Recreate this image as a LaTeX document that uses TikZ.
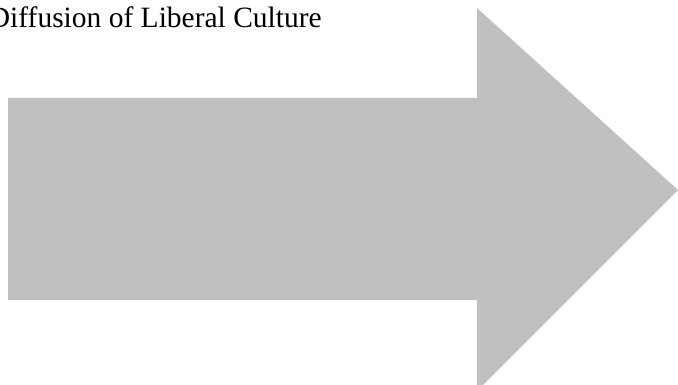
\documentclass[tikz,border=0pt]{standalone}
\usepackage{fontspec}
\setmainfont{Liberation Serif}
\definecolor{arrowgray}{RGB}{191,192,194}
\tikzset{
  arrowshape/.style={fill=arrowgray, draw=none},
  titletext/.style={inner sep=0pt, font=\fontsize{29.5}{33}\selectfont, text=black}
}
\begin{document}
\begin{tikzpicture}[x=1pt,y=-1pt]
\useasboundingbox (0,0) rectangle (678,385);
\clip (0,0) rectangle (678,385);
\fill[arrowshape] (8,98) -- (477,98) -- (477,8) -- (678,190) -- (477,391) -- (477,300) -- (8,300) -- cycle;
\node[titletext, anchor=base east] (title) at (322,28) {Diffusion of Liberal Culture};
\end{tikzpicture}
\end{document}
